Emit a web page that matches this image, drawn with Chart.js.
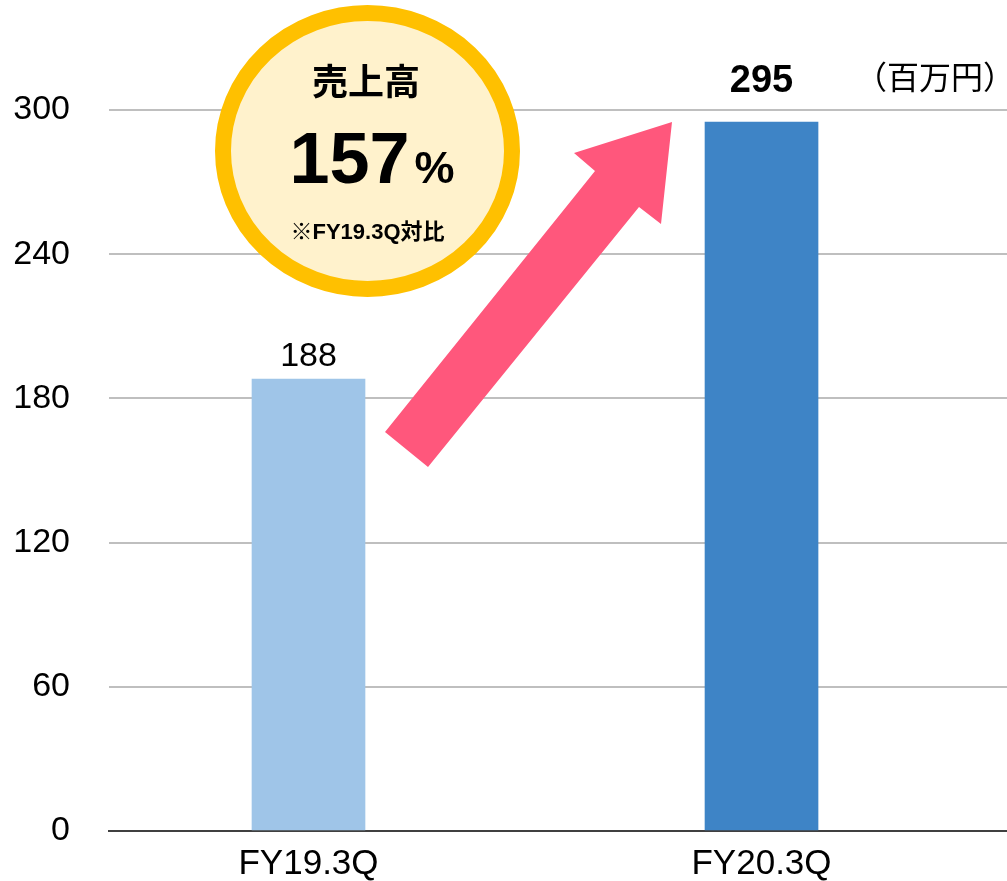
<!DOCTYPE html>
<html>
<head>
<meta charset="utf-8">
<script src="https://cdn.jsdelivr.net/npm/chart.js@4"></script>
<style>
  html, body { margin: 0; padding: 0; background: #fff; }
  canvas { display: block; }
</style>
</head>
<body>
<canvas id="salesChart" width="1007" height="881"></canvas>
<script>
// Sales comparison FY19.3Q vs FY20.3Q (百万円)

const categories = ['FY19.3Q', 'FY20.3Q'];
const sales = [188, 295];
const valueLabels = ['188', '295'];
const barColors = ['#9FC5E8', '#3E84C6'];
const yTicks = [0, 60, 120, 180, 240, 300];

const LATIN = '"Liberation Sans", Arial, sans-serif';
const MIXED = '"Liberation Sans", "Noto Sans CJK JP", sans-serif';
const CJK = '"Noto Sans CJK JP", "Liberation Sans", sans-serif';

function $(id) {
  return document.getElementById(id);
}

// badge, arrow, value labels, unit
const decorations = {
  id: 'decorations',
  afterDatasetsDraw(chart) {
    const ctx = chart.ctx;
    const xs = chart.scales.x;
    const ys = chart.scales.y;

    ctx.save();

    // value labels above bars
    const offsets = [23, 41];
    const fonts = ['normal 34px ' + LATIN, 'bold 38px ' + LATIN];
    ctx.fillStyle = '#000';
    ctx.textAlign = 'center';
    ctx.textBaseline = 'middle';
    sales.forEach((v, i) => {
      ctx.font = fonts[i];
      ctx.fillText(valueLabels[i], xs.getPixelForValue(i), ys.getPixelForValue(v) - offsets[i]);
    });

    // unit
    ctx.font = 'normal 32px ' + CJK;
    ctx.textAlign = 'left';
    ctx.fillText('（百万円）', 855, 77);

    // pink arrow
    ctx.fillStyle = '#FF577C';
    ctx.beginPath();
    ctx.moveTo(385, 432);
    ctx.lineTo(595, 171);
    ctx.lineTo(574, 153);
    ctx.lineTo(672, 122);
    ctx.lineTo(661, 224);
    ctx.lineTo(639, 207);
    ctx.lineTo(428, 467);
    ctx.closePath();
    ctx.fill();

    // badge circle
    ctx.beginPath();
    ctx.ellipse(367.5, 151, 144.5, 138, 0, 0, Math.PI * 2);
    ctx.fillStyle = '#FFF2CC';
    ctx.fill();
    ctx.lineWidth = 16;
    ctx.strokeStyle = '#FFC000';
    ctx.stroke();

    ctx.fillStyle = '#000';
    ctx.textAlign = 'center';
    ctx.textBaseline = 'middle';
    ctx.font = 'bold 36px ' + CJK;
    ctx.fillText('売上高', 366, 81);

    // 157 + small %
    ctx.textBaseline = 'alphabetic';
    ctx.font = 'bold 72px ' + LATIN;
    const wNum = ctx.measureText('157').width;
    ctx.font = 'bold 45px ' + LATIN;
    const wPct = ctx.measureText('%').width;
    const gap = 5;
    const startX = 372 - (wNum + gap + wPct) / 2;
    ctx.textAlign = 'left';
    ctx.font = 'bold 72px ' + LATIN;
    ctx.fillText('157', startX, 183);
    ctx.font = 'bold 45px ' + LATIN;
    ctx.fillText('%', startX + wNum + gap, 183);

    ctx.textAlign = 'center';
    ctx.textBaseline = 'middle';
    ctx.font = 'bold 22px ' + MIXED;
    ctx.fillText('※FY19.3Q対比', 367.5, 233);

    ctx.restore();
  }
};

const xMin = -0.4404;
const xMax = 1.5419;

new Chart($('salesChart').getContext('2d'), {
  type: 'bar',
  data: {
    datasets: [{
      data: sales.map((v, i) => ({ x: i, y: v })),
      backgroundColor: barColors,
      barThickness: 113,
      borderWidth: 0
    }]
  },
  options: {
    responsive: false,
    animation: false,
    devicePixelRatio: 1,
    layout: { padding: { top: 110, right: 0, bottom: 0, left: 0 } },
    plugins: {
      legend: { display: false },
      tooltip: { enabled: false }
    },
    scales: {
      x: {
        type: 'linear',
        offset: false,
        min: xMin,
        max: xMax,
        afterBuildTicks: s => { s.ticks = categories.map((c, i) => ({ value: i })); },
        afterFit: s => { s.height = 50; },
        grid: { display: false, drawTicks: false },
        border: { display: true, color: '#404040', width: 2 },
        ticks: {
          padding: 12,
          color: '#000',
          font: { family: LATIN, size: 35 },
          callback: v => categories[v]
        }
      },
      y: {
        min: 0,
        max: 300,
        afterBuildTicks: s => { s.ticks = yTicks.map(v => ({ value: v })); },
        afterFit: s => { s.width = 109; },
        grid: {
          color: c => c.tick && c.tick.value === 0 ? '#404040' : '#BFBFBF',
          lineWidth: 2,
          drawTicks: true,
          tickLength: 39,
          tickColor: 'rgba(0,0,0,0)'
        },
        border: { display: false },
        ticks: {
          padding: 0,
          color: '#000',
          font: { family: LATIN, size: 34 }
        }
      }
    }
  },
  plugins: [decorations]
});
</script>
</body>
</html>
